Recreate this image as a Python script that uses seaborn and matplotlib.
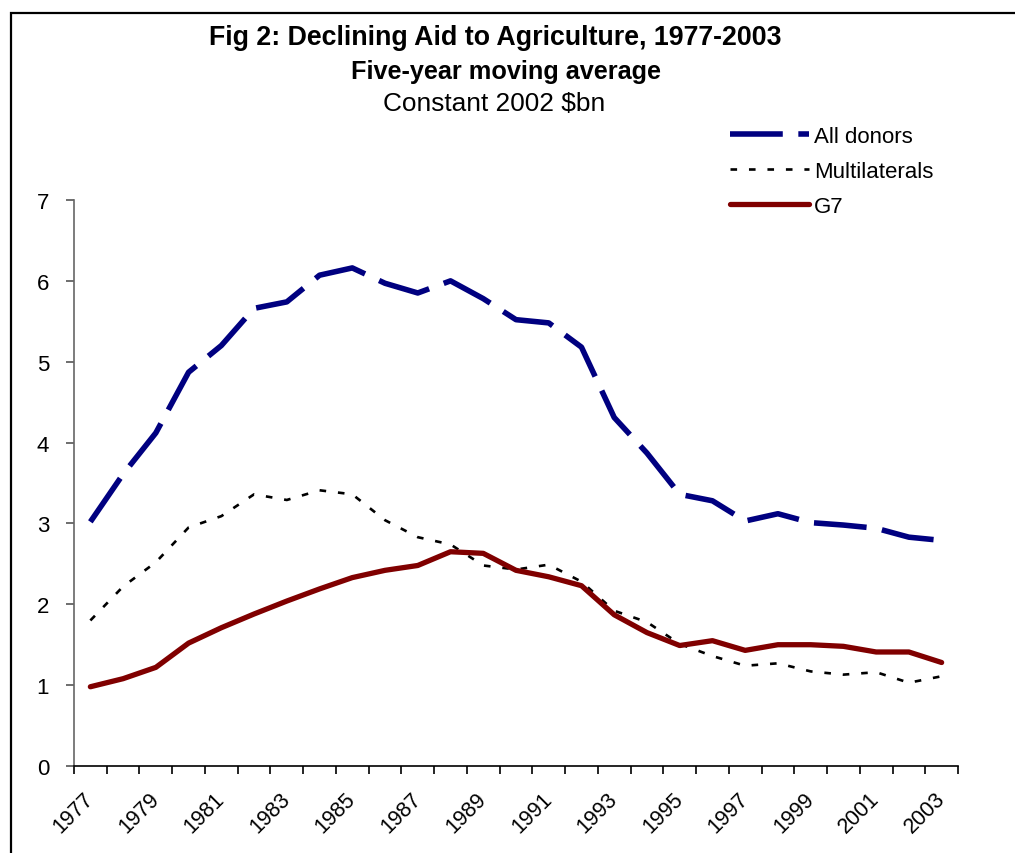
import numpy as np
import pandas as pd
import matplotlib
matplotlib.use("Agg")
import matplotlib.pyplot as plt
import seaborn as sns
from matplotlib.patches import Rectangle
from matplotlib.ticker import FixedLocator

years = list(range(1977, 2004))
all_donors = [3.02, 3.61, 4.12, 4.87, 5.20, 5.66, 5.74, 6.07, 6.16, 5.97, 5.85, 6.00,
              5.78, 5.52, 5.48, 5.18, 4.31, 3.87, 3.36, 3.28, 3.03, 3.12, 3.01, 2.98,
              2.94, 2.83, 2.79]
multilaterals = [1.80, 2.22, 2.52, 2.95, 3.09, 3.36, 3.29, 3.41, 3.36, 3.04, 2.83, 2.74,
                 2.48, 2.43, 2.49, 2.28, 1.92, 1.78, 1.51, 1.36, 1.24, 1.27, 1.17, 1.13,
                 1.16, 1.03, 1.11]
g7 = [0.98, 1.08, 1.22, 1.52, 1.71, 1.88, 2.04, 2.19, 2.33, 2.42, 2.48, 2.65,
      2.63, 2.42, 2.34, 2.23, 1.87, 1.65, 1.49, 1.55, 1.43, 1.50, 1.50, 1.48,
      1.41, 1.41, 1.28]
series_names = ["All donors", "Multilaterals", "G7"]
title_lines = ["Fig 2: Declining Aid to Agriculture, 1977-2003",
               "Five-year moving average", "Constant 2002 $bn"]

sns.set_theme(style="white")
plt.rcParams["font.family"] = ["Liberation Sans", "DejaVu Sans"]
plt.rcParams["text.color"] = "black"

W, H = 1015, 854
fig = plt.figure(figsize=(W / 100, H / 100), dpi=100)
ax = fig.add_axes([74 / W, 1 - 767 / H, (958 - 74) / W, (767 - 201) / H])

df = pd.DataFrame({"year": years, "All donors": all_donors,
                   "Multilaterals": multilaterals, "G7": g7})

sns.lineplot(data=df, x="year", y="All donors", ax=ax, color="#000080",
             lw=4.0, linestyle=(0, (9.5, 2.8)), label=series_names[0])
sns.lineplot(data=df, x="year", y="Multilaterals", ax=ax, color="black",
             lw=1.9, linestyle=(0, (2.5, 4.5)), label=series_names[1])
sns.lineplot(data=df, x="year", y="G7", ax=ax, color="#800000",
             lw=3.8, label=series_names[2])
for ln in ax.lines:
    ln.set_solid_capstyle("round")
    ln.set_dash_capstyle("butt")

ax.set_xlim(years[0] - 0.5, years[-1] + 0.5)
ax.set_ylim(0, 7)
ax.set_yticks(range(0, 8))
ax.set_xlabel("")
ax.set_ylabel("")

ax.xaxis.set_major_locator(FixedLocator(years[::2]))
ax.set_xticklabels([str(y) for y in years[::2]], rotation=45, ha="right",
                   va="center", rotation_mode="anchor")
ax.xaxis.set_minor_locator(FixedLocator([y - 0.5 for y in years] + [years[-1] + 0.5]))
ax.tick_params(axis="x", which="major", length=0, pad=21, labelsize=15.5,
               labelcolor="black")
ax.tick_params(axis="x", which="minor", length=6, width=1.2, color="black",
               direction="out", bottom=True)
ax.tick_params(axis="y", which="major", length=6, width=1.2, color="#555555",
               direction="out", left=True, pad=12, labelsize=16, labelcolor="black")

for s in ["top", "right"]:
    ax.spines[s].set_visible(False)
ax.spines["left"].set_color("#666666")
ax.spines["left"].set_linewidth(1.2)
ax.spines["bottom"].set_color("black")
ax.spines["bottom"].set_linewidth(1.2)
ax.grid(False)

leg = ax.legend(loc="upper left", bbox_to_anchor=(730 / W, 1 - 127 / H),
                bbox_transform=fig.transFigure, frameon=False, fontsize=16,
                handlelength=3.55, handletextpad=0.22, labelspacing=0.62,
                borderpad=0, borderaxespad=0)
for t in leg.get_texts():
    t.set_color("black")

fig.text(495.5 / W, 1 - 38 / H, title_lines[0], ha="center", va="center",
         fontsize=19.3, fontweight="bold")
fig.text(506 / W, 1 - 72 / H, title_lines[1], ha="center", va="center",
         fontsize=18.2, fontweight="bold")
fig.text(494 / W, 1 - 104 / H, title_lines[2], ha="center", va="center",
         fontsize=18.9)

fig.patches.append(Rectangle((11 / W, -0.2), 1.5, 1 - 14 / H + 0.2, fill=False,
                             lw=1.6, edgecolor="black", transform=fig.transFigure,
                             figure=fig))

fig.savefig("out.png", dpi=100)
